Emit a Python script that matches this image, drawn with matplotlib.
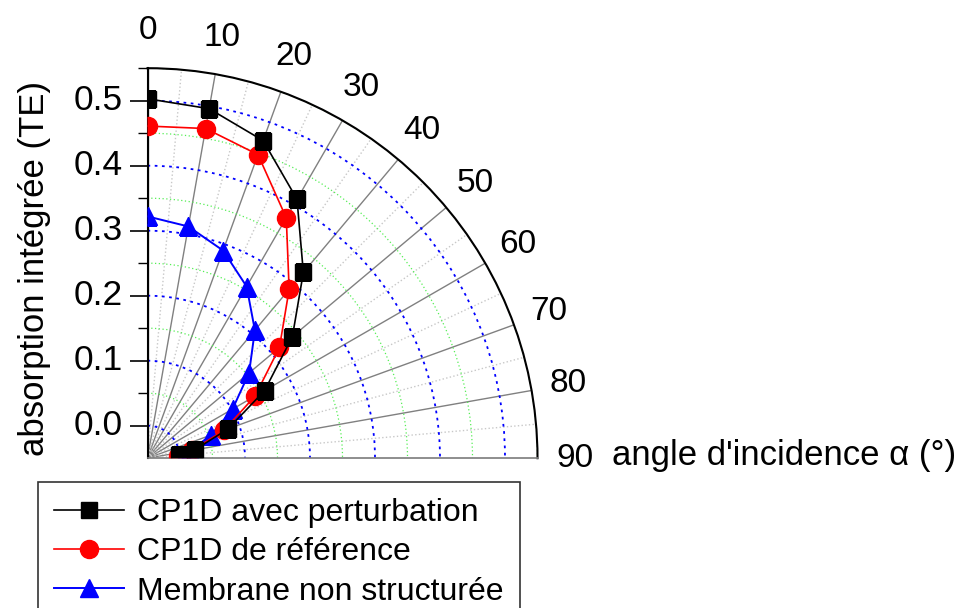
import numpy as np
import matplotlib
matplotlib.use("Agg")
import matplotlib.pyplot as plt
from matplotlib.ticker import FixedLocator

plt.rcParams["font.family"] = ["Liberation Sans", "DejaVu Sans"]

# incidence angles (deg) and integrated absorption (TE)
angles = [0, 10, 20, 30, 40, 50, 60, 70, 80, 85]
cp1d_perturb = [0.503, 0.496, 0.470, 0.410, 0.323, 0.241, 0.158, 0.082, 0.024, -0.001]
cp1d_ref = [0.461, 0.465, 0.447, 0.377, 0.289, 0.215, 0.141, 0.075, 0.020, -0.003]
membrane = [0.322, 0.312, 0.290, 0.255, 0.207, 0.154, 0.101, 0.054, 0.017, 0.006]

labels = ["CP1D avec perturbation", "CP1D de r\u00e9f\u00e9rence", "Membrane non structur\u00e9e"]
r_major = [0.0, 0.1, 0.2, 0.3, 0.4, 0.5]
r_minor = [0.05, 0.15, 0.25, 0.35, 0.45, 0.55]
theta_major = list(range(0, 91, 10))
theta_minor = list(range(5, 90, 10))

FS_TICK = 24
FS_RTICK = 25.5
FS_LAB = 25
FS_LEG = 23

fig = plt.figure(figsize=(9.66, 6.08), dpi=100)
ax = fig.add_axes([147.5 / 966, 1 - 458.2 / 608, 390 / 966, 390 / 608], projection="polar")
ax.set_theta_zero_location("N")
ax.set_theta_direction(-1)
ax.set_thetamin(0)
ax.set_thetamax(90)
ax.set_rlim(-0.05, 0.55)

th = np.deg2rad(angles)
ax.plot(th, cp1d_perturb, color="black", lw=1.2, marker="s", ms=11, label=labels[0], zorder=5)
ax.plot(th, cp1d_ref, color="red", lw=1.2, marker="o", ms=13, label=labels[1], zorder=4)
ax.plot(th, membrane, color="blue", lw=1.4, marker="^", ms=13, label=labels[2], zorder=3)

# theta grid / ticks
ax.set_thetagrids(theta_major, [str(t) for t in theta_major])
ax.xaxis.set_minor_locator(FixedLocator(np.deg2rad(theta_minor)))
ax.xaxis.grid(True, which="major", color="#808080", ls="-", lw=1)
ax.xaxis.grid(True, which="minor", color="#c8c8c8", ls=":", lw=1)
ax.tick_params(axis="x", which="major", direction="in", length=10, width=1.2, pad=20,
               labelsize=FS_TICK)
ax.tick_params(axis="x", which="minor", direction="in", length=5, width=1)

# radial grid / ticks
ax.yaxis.set_major_locator(FixedLocator(r_major))
ax.yaxis.set_minor_locator(FixedLocator(r_minor))
ax.set_yticklabels([f"{v:.1f}" for v in r_major])
ax.yaxis.grid(True, which="major", color="blue", ls=(0, (1.5, 2.5)), lw=1.3)
ax.yaxis.grid(True, which="minor", color="#55ee55", ls=(0, (1, 2)), lw=0.9)
ax.tick_params(axis="y", which="both", left=True, labelleft=True)
ax.tick_params(axis="y", which="major", direction="out", length=13, width=1.2, pad=5,
               labelsize=FS_RTICK)
ax.tick_params(axis="y", which="minor", direction="out", length=7, width=1)

ax.spines["polar"].set_linewidth(1.5)
ax.spines["start"].set_linewidth(1.5)
ax.spines["end"].set_color("#808080")
ax.spines["end"].set_linewidth(1.2)
ax.spines["inner"].set_visible(False)

fig.text(0.036, (608 - 268) / 608, "absorption int\u00e9gr\u00e9e (TE)", rotation=90,
         ha="center", va="center", fontsize=FS_LAB)
fig.text(612 / 966, 1 - 456 / 608, "angle d'incidence \u03b1 (\u00b0)", ha="left", va="center",
         fontsize=FS_LAB)

leg = fig.legend(loc="upper left", bbox_to_anchor=(38 / 966, 1 - 482 / 608), fontsize=FS_LEG,
                 frameon=True, fancybox=False, edgecolor="#333333", framealpha=1,
                 handlelength=2.2, handletextpad=0.4, labelspacing=0.29, borderpad=0.5,
                 borderaxespad=0)
leg.get_frame().set_linewidth(1.2)

fig.savefig("out.png", dpi=100)
